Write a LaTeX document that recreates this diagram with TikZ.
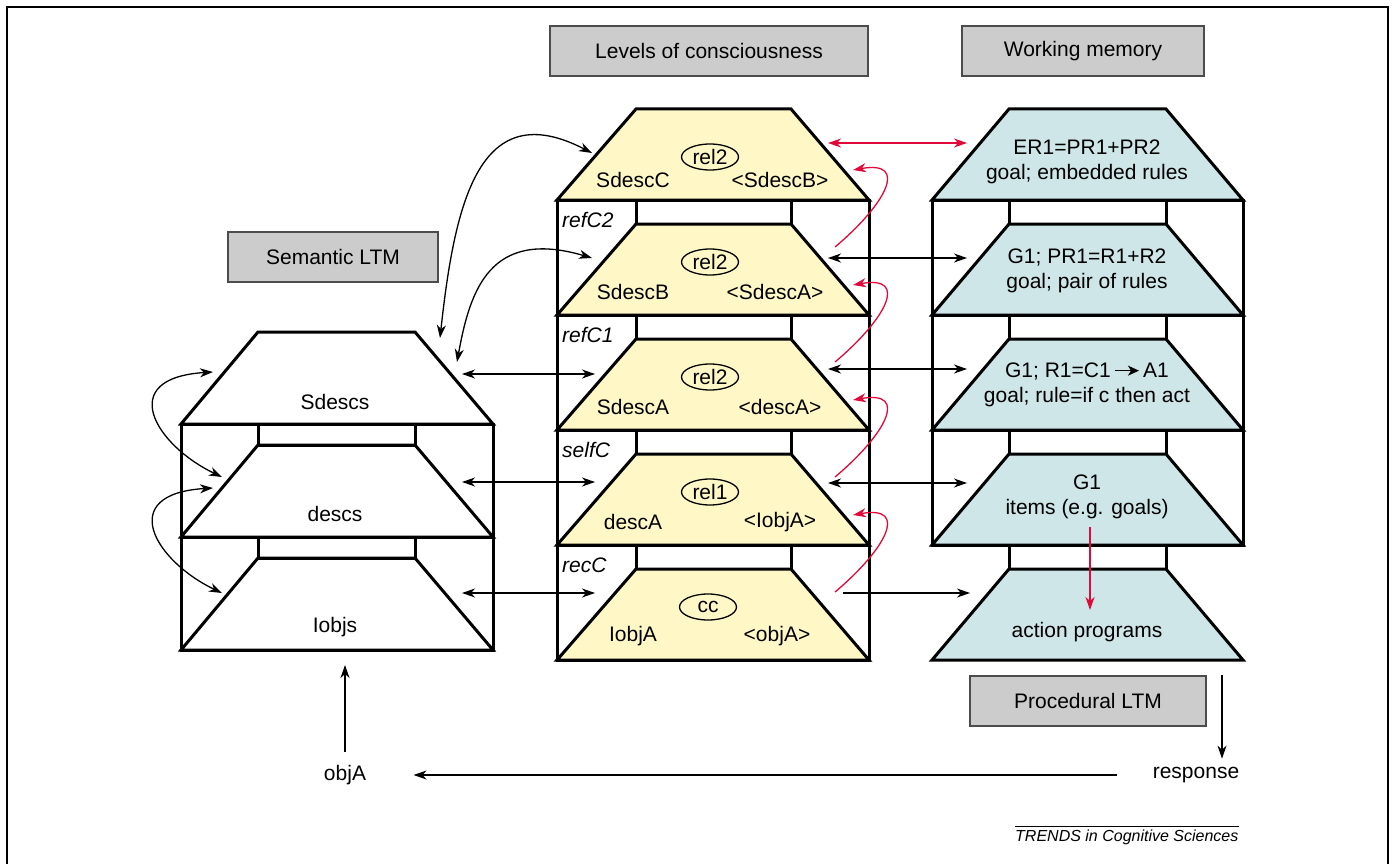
\documentclass[tikz,border=0pt]{standalone}
\usepackage{fontspec}
\setmainfont{Liberation Sans}
\usetikzlibrary{arrows.meta,shapes.geometric}

\definecolor{lvlyellow}{RGB}{255,248,198}
\definecolor{wmblue}{RGB}{206,230,232}
\definecolor{arrred}{RGB}{224,10,58}
\definecolor{boxgray}{RGB}{204,204,204}

\tikzset{
  stack/.style={line width=3pt, line join=miter},
  head/.style={draw=black!70, fill=boxgray, line width=1.3pt, minimum height=50pt},
  rel/.style={ellipse, draw, line width=1.3pt, minimum width=57pt, minimum height=26pt, inner sep=0pt},
  arr/.style={line width=1.3pt, >={Stealth[length=13pt,width=9pt,inset=4pt]}},
  lvl/.style={font=\fontsize{21}{25}\selectfont\itshape, anchor=west, inner sep=0pt},
}

\begin{document}
\begin{tikzpicture}[x=1pt,y=-1pt,font=\fontsize{21}{25}\selectfont]
  \useasboundingbox (0,0) rectangle (1396,864);
  \draw[line width=1.5pt] (7,864) |- (1388,7) -- (1388,864);

  % headings
  \node[head, minimum width=318pt] (consc) at (709,51) {Levels of consciousness};
  \node[head, minimum width=242pt] (wm) at (1083,51) {Working memory};
  \node[head, minimum width=210pt] (sem) at (333,257) {Semantic LTM};
  \node[head, minimum width=236pt] (proc) at (1088,701) {Procedural LTM};

  % semantic LTM stack
  \foreach \b in {650,537} {
    \draw[stack] (181,\b-113) rectangle (493,\b);
    \draw[stack] (258,\b-113) rectangle (415,\b-92);
  }
  \foreach \b in {650,537,424}
    \draw[stack] (181,\b) -- (258,\b-92) -- (415,\b-92) -- (493,\b) -- cycle;
  \node (sdescs) at (335,402) {Sdescs};
  \node (descs) at (335,514) {descs};
  \node (iobjs) at (335,627) {Iobjs};

  % levels of consciousness stack
  \foreach \b in {660,545,430,315} {
    \draw[stack] (557,\b-115) rectangle (869,\b);
    \draw[stack] (636,\b-115) rectangle (791,\b-91);
  }
  \foreach \b in {660,545,430,315,200}
    \draw[stack, fill=lvlyellow] (557,\b) -- (636,\b-91) -- (791,\b-91) -- (869,\b) -- cycle;

  \node[rel] (rel2c) at (710,157) {rel2};
  \node (sdescC) at (633,180) {SdescC};
  \node (sdescBr) at (780,180) {<SdescB>};
  \node[rel] (rel2b) at (710,262) {rel2};
  \node (sdescB) at (633,292) {SdescB};
  \node (sdescAr) at (775,292) {<SdescA>};
  \node[rel] (rel2a) at (710,377) {rel2};
  \node (sdescA) at (633,407) {SdescA};
  \node (descAr) at (780,407) {<descA>};
  \node[rel] (rel1) at (710,492) {rel1};
  \node (descA) at (633,522) {descA};
  \node (iobjAr) at (780,522) {<IobjA>};
  \node[rel] (cc) at (708,607) {cc};
  \node (iobjA) at (633,636) {IobjA};
  \node (objAr) at (777,636) {<objA>};

  \node[lvl] (refC2) at (562,220) {refC2};
  \node[lvl] (refC1) at (562,335) {refC1};
  \node[lvl] (selfC) at (562,450) {selfC};
  \node[lvl] (recC) at (562,565) {recC};

  % working memory stack
  \foreach \b in {545,430,315}
    \draw[stack] (932,\b-115) rectangle (1243,\b);
  \foreach \b in {660,545,430,315}
    \draw[stack] (1009,\b-115) rectangle (1166,\b-91);
  \foreach \b in {660,545,430,315,200}
    \draw[stack, fill=wmblue] (932,\b) -- (1009,\b-91) -- (1166,\b-91) -- (1243,\b) -- cycle;

  \node[align=center] (er1) at (1087,162) {ER1=PR1+PR2\\goal; embedded rules};
  \node[align=center] (pr1) at (1087,271) {G1; PR1=R1+R2\\goal; pair of rules};
  \node[align=center] (r1) at (1087,385) {G1; R1=C1\,\tikz[baseline=-7pt]\draw[line width=1.4pt,-{Stealth[length=11pt,width=10pt,inset=3pt]}] (0pt,0pt) -- (24pt,0pt);\,A1\\goal; rule=if c then act};
  \node[align=center] (items) at (1087,497) {G1\\items (e.g. goals)};
  \node (actprog) at (1087,632) {action programs};
  \coordinate (itemsout) at (1090,527);
  \coordinate (actin) at (1090,610);
  \draw[arr,->,arrred] (itemsout) -- (actin);

  % links between the stacks
  \foreach \n/\y in {2/374,1/482,0/593} {
    \coordinate (se\n) at (462,\y);
    \coordinate (yw\n) at (595,\y);
    \draw[arr,<->] (se\n) -- (yw\n);
  }
  \foreach \n/\y in {3/258,2/369,1/483} {
    \coordinate (ye\n) at (828,\y);
    \coordinate (bw\n) at (967,\y);
    \draw[arr,<->] (ye\n) -- (bw\n);
  }
  \coordinate (ye4) at (828,143);
  \coordinate (bw4) at (967,143);
  \draw[arr,<->,arrred] (ye4) -- (bw4);
  \coordinate (ye0) at (843,593);
  \coordinate (bw0) at (970,593);
  \draw[arr,->] (ye0) -- (bw0);

  % curved links
  \draw[arr,<->] (440,338) .. controls (455,200) and (480,95) .. (592,153);
  \draw[arr,<->] (457,362) .. controls (470,290) and (490,228) .. (592,258);
  \draw[arr,<->] (213,372) .. controls (115,378) and (155,445) .. (222,477);
  \draw[arr,<->] (213,488) .. controls (115,494) and (155,561) .. (222,593);
  \foreach \s in {247,362,477,592}
    \draw[arr,->,arrred] (835,\s) .. controls (885,\s-42) and (910,\s-87) .. (853,\s-77);

  % input and output
  \node (objA) at (345,775) {objA};
  \node (response) at (1196,775) {response};
  \coordinate (semin) at (345,665);
  \coordinate (procout) at (1222,675);
  \draw[arr,->] ([yshift=10pt]objA.north) -- (semin);
  \draw[arr,->, shorten >=5pt] (procout) -- (procout |- response.north);
  \draw[arr,->, shorten <=32pt, shorten >=44pt] (response.west) -- (objA.east);

  \node[font=\fontsize{16}{19}\selectfont\itshape, inner sep=0pt, anchor=base west] (trends) at (1015,841) {TRENDS in Cognitive Sciences};
  \draw[line width=1pt] ([yshift=3pt]trends.north west) -- ([yshift=3pt]trends.north east);
\end{tikzpicture}
\end{document}
